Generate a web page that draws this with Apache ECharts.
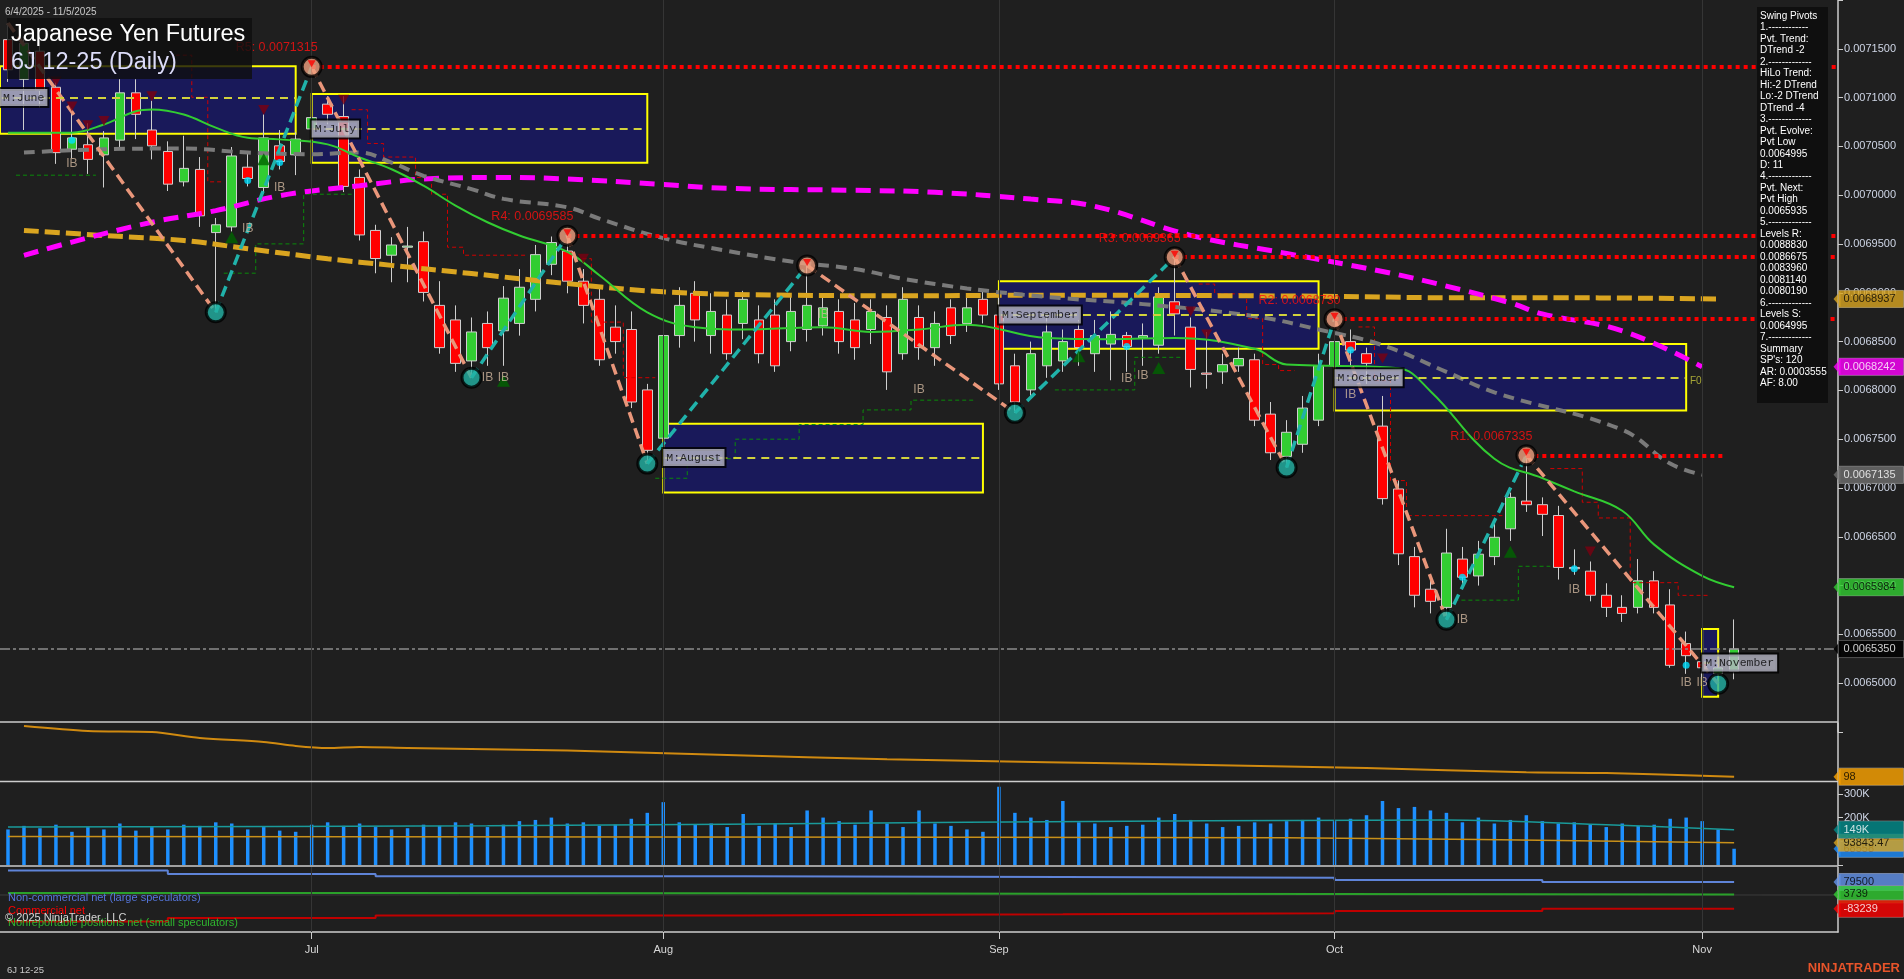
<!DOCTYPE html>
<html><head><meta charset="utf-8">
<script src="https://cdn.jsdelivr.net/npm/echarts@6/dist/echarts.min.js"></script>
<style>html,body{margin:0;padding:0;background:#1f1f1f;overflow:hidden}#c{width:1904px;height:979px}</style>
</head><body><div id="c"></div>
<script>
// ---------------- DATA ----------------
const dates = ['2025-06-04','2025-06-05','2025-06-06','2025-06-09','2025-06-10','2025-06-11','2025-06-12','2025-06-13','2025-06-16','2025-06-17','2025-06-18','2025-06-19','2025-06-20','2025-06-23','2025-06-24','2025-06-25','2025-06-26','2025-06-27','2025-06-30',
'2025-07-01','2025-07-02','2025-07-03','2025-07-07','2025-07-08','2025-07-09','2025-07-10','2025-07-11','2025-07-14','2025-07-15','2025-07-16','2025-07-17','2025-07-18','2025-07-21','2025-07-22','2025-07-23','2025-07-24','2025-07-25','2025-07-28','2025-07-29','2025-07-30','2025-07-31',
'2025-08-01','2025-08-04','2025-08-05','2025-08-06','2025-08-07','2025-08-08','2025-08-11','2025-08-12','2025-08-13','2025-08-14','2025-08-15','2025-08-18','2025-08-19','2025-08-20','2025-08-21','2025-08-22','2025-08-25','2025-08-26','2025-08-27','2025-08-28','2025-08-29',
'2025-09-02','2025-09-03','2025-09-04','2025-09-05','2025-09-08','2025-09-09','2025-09-10','2025-09-11','2025-09-12','2025-09-15','2025-09-16','2025-09-17','2025-09-18','2025-09-19','2025-09-22','2025-09-23','2025-09-24','2025-09-25','2025-09-26','2025-09-29','2025-09-30',
'2025-10-01','2025-10-02','2025-10-03','2025-10-06','2025-10-07','2025-10-08','2025-10-09','2025-10-10','2025-10-13','2025-10-14','2025-10-15','2025-10-16','2025-10-17','2025-10-20','2025-10-21','2025-10-22','2025-10-23','2025-10-24','2025-10-27','2025-10-28','2025-10-29','2025-10-30','2025-10-31',
'2025-11-03','2025-11-04','2025-11-05'];
const padCats = ['p1','p2','p3','p4','p5','p6'];
const monthNames = {'07':'Jul','08':'Aug','09':'Sep','10':'Oct','11':'Nov'};

const opens = [0.0071594,0.0071188,0.0071476,0.0071106,0.0070471,0.0070517,0.0070414,0.0070564,0.0071049,0.0070668,
0.0070448,0.0070137,0.0070264,0.0069617,0.0069675,0.0070287,0.0070079,0.0070506,0.0070414,0.0070679,
0.0070933,0.0070806,0.0070182,0.0069639,0.0069385,0.0069467,0.0069524,0.0068871,0.0068722,0.0068302,
0.0068686,0.0068611,0.0068686,0.0068933,0.0069292,0.0069428,0.0069119,0.0068933,0.0068648,0.0068624,
0.0068005,0.0067510,0.0068562,0.0068995,0.0068562,0.0068772,0.0068686,0.0068722,0.0068772,0.0068500,
0.0068624,0.0068661,0.0068809,0.0068722,0.0068624,0.0068747,0.0068376,0.0068747,0.0068438,0.0068846,
0.0068686,0.0068933,0.0068772,0.0068252,0.0068005,0.0068252,0.0068302,0.0068624,0.0068376,0.0068475,
0.0068562,0.0068537,0.0068463,0.0068908,0.0068648,0.0068178,0.0068190,0.0068252,0.0068314,0.0067757,
0.0067324,0.0067448,0.0067695,0.0068252,0.0068500,0.0068376,0.0067634,0.0066990,0.0066297,0.0065963,
0.0065777,0.0066272,0.0066099,0.0066297,0.0066582,0.0066866,0.0066829,0.0066718,0.0066186,0.0066148,
0.0065901,0.0065777,0.0065777,0.0066049,0.0065802,0.0065406,0.0065220,0.0065096,0.0065120];
const closes = [0.0071285,0.0071557,0.0071072,0.0070436,0.0070587,0.0070367,0.0070587,0.0071049,0.0070829,0.0070506,
0.0070113,0.0070275,0.0069789,0.0069697,0.0070402,0.0070171,0.0070587,0.0070345,0.0070575,0.0070795,
0.0070829,0.0070090,0.0069593,0.0069351,0.0069490,0.0069479,0.0069004,0.0068438,0.0068277,0.0068599,
0.0068438,0.0068945,0.0069057,0.0069391,0.0069515,0.0069119,0.0068871,0.0068314,0.0068500,0.0067881,
0.0067386,0.0068562,0.0068871,0.0068722,0.0068809,0.0068376,0.0068933,0.0068376,0.0068252,0.0068809,
0.0068871,0.0068846,0.0068500,0.0068438,0.0068809,0.0068190,0.0068933,0.0068438,0.0068686,0.0068562,
0.0068846,0.0068772,0.0068067,0.0067881,0.0068376,0.0068599,0.0068500,0.0068438,0.0068562,0.0068574,
0.0068450,0.0068562,0.0068958,0.0068784,0.0068215,0.0068165,0.0068264,0.0068327,0.0067695,0.0067361,
0.0067571,0.0067819,0.0068252,0.0068500,0.0068413,0.0068277,0.0066891,0.0066326,0.0065901,0.0065839,
0.0066334,0.0066086,0.0066322,0.0066495,0.0066904,0.0066829,0.0066730,0.0066186,0.0066173,0.0065901,
0.0065777,0.0065715,0.0066049,0.0065777,0.0065183,0.0065282,0.0065158,0.0065158,0.0065350];
const lows = [0.0071161,0.0070668,0.0070899,0.0070321,0.0070379,0.0070218,0.0070079,0.0070494,0.0070575,0.0070367,
0.0070043,0.0070090,0.0069675,0.0068800,0.0069628,0.0070090,0.0070032,0.0070264,0.0070206,0.0070552,
0.0070726,0.0070032,0.0069536,0.0069200,0.0069108,0.0069108,0.0068911,0.0068376,0.0068190,0.0068130,
0.0068252,0.0068252,0.0068561,0.0068809,0.0069181,0.0068995,0.0068686,0.0068252,0.0068376,0.0067819,
0.0067250,0.0067361,0.0068438,0.0068500,0.0068376,0.0068314,0.0068525,0.0068277,0.0068190,0.0068401,
0.0068500,0.0068562,0.0068376,0.0068314,0.0068475,0.0068005,0.0068314,0.0068314,0.0068252,0.0068475,
0.0068599,0.0068686,0.0068005,0.0067770,0.0067943,0.0068129,0.0068190,0.0068252,0.0068190,0.0068104,
0.0068190,0.0068252,0.0068376,0.0068562,0.0068030,0.0068017,0.0068067,0.0068190,0.0067634,0.0067287,
0.0067210,0.0067361,0.0067634,0.0067881,0.0068252,0.0068067,0.0066830,0.0066210,0.0065777,0.0065715,
0.0065650,0.0065963,0.0066000,0.0066210,0.0066458,0.0066755,0.0066508,0.0066062,0.0066111,0.0065839,
0.0065678,0.0065628,0.0065715,0.0065715,0.0065158,0.0065096,0.0065047,0.0064995,0.0065040];
const highs = [0.0071765,0.0071619,0.0071532,0.0071153,0.0070864,0.0070737,0.0070657,0.0071188,0.0071188,0.0070968,
0.0070552,0.0070609,0.0070391,0.0069767,0.0070494,0.0070436,0.0070829,0.0070668,0.0070644,0.0071315,
0.0071014,0.0071014,0.0070264,0.0069697,0.0069570,0.0069675,0.0069628,0.0069119,0.0068871,0.0068747,
0.0068809,0.0069069,0.0069243,0.0069490,0.0069577,0.0069585,0.0069243,0.0069057,0.0068871,0.0068809,
0.0068067,0.0069057,0.0069057,0.0069119,0.0068995,0.0068933,0.0069020,0.0068871,0.0068933,0.0068995,
0.0069280,0.0068995,0.0068933,0.0068896,0.0068933,0.0068871,0.0069057,0.0068871,0.0068809,0.0068933,
0.0068995,0.0069020,0.0068995,0.0068376,0.0068500,0.0068747,0.0068624,0.0068722,0.0068722,0.0068809,
0.0068599,0.0068686,0.0069057,0.0069365,0.0068747,0.0068599,0.0068376,0.0068438,0.0068376,0.0067881,
0.0067695,0.0067943,0.0068376,0.0068730,0.0068624,0.0068438,0.0067943,0.0067077,0.0066396,0.0066086,
0.0066582,0.0066396,0.0066458,0.0066643,0.0066953,0.0067335,0.0066904,0.0066817,0.0066371,0.0066247,
0.0066024,0.0065901,0.0066272,0.0066148,0.0065963,0.0065529,0.0065282,0.0065220,0.0065653];

// volume in thousands of contracts
const volumeK = [150,165,155,170,140,160,150,175,145,160, 150,170,165,180,175,150,160,145,140,170,
180,165,175,160,150,155,170,165,180,175, 160,170,185,190,200,175,180,165,170,195,
220,265,180,170,175,160,215,165,175,160, 230,200,185,170,230,175,160,230,175,165,
150,140,330,220,200,190,270,180,175,160, 165,170,200,215,190,175,160,165,180,175,
185,190,200,185,195,210,270,240,245,230, 220,180,200,175,190,210,185,175,180,170,
160,175,165,170,195,200,185,150,68.558];
const volAvgTeal = [[0,160],[30,165],[60,180],[90,190],[100,170],[108,149]];
const volAvgGold = [[0,120],[40,118],[80,115],[108,93.84347]];

// swing pivots
const pivotIdx = [0,13,19,29,35,40,50,63,73,80,83,90,95,107];
const pivotPx  = [0.0071765,0.0068800,0.0071315,0.0068130,0.0069585,0.0067250,0.0069280,0.0067770,0.0069365,0.0067210,0.0068730,0.0065650,0.0067335,0.0064995];

// resistance levels
const rNames = ['R5','R4','R3','R2','R1'];
const rIdx = [19,35,73,83,95];
const rVals = [0.0071315,0.0069585,0.0069365,0.0068730,0.0067335];
const rEnd = [114.5,114.5,114.5,114.5,107.5];

// monthly value boxes
const boxNames = ['M:June','M:July','M:August','M:September','M:October','M:November'];
const boxStart = [-0.5,19,41,62,83,106];
const boxEnd = [18,40,61,82,105,107];
const boxTop = [0.0071322,0.0071037,0.0067658,0.0069119,0.0068475,0.0065555];
const boxBot = [0.0070629,0.0070332,0.0066953,0.0068426,0.0067794,0.0064862];
const boxMid = [0.0071000,0.0070678,0.0067312,0.0068772,0.0068129,0.0065208];

// moving averages (index, value)
const maGreen = [[0,0.0070641],[4,0.0070641],[6,0.0070725],[8,0.0070861],[9,0.0070879],[11,0.0070827],[13,0.0070692],[15,0.0070589],[17,0.0070572],[20,0.0070521],[22,0.0070386],[24,0.0070266],[26,0.0070097],[28,0.0069894],[30,0.0069723],[32,0.0069587],[35,0.0069420],[37,0.0069180],[40,0.0068800],[43,0.0068648],[46,0.0068624],[51,0.0068648],[54,0.0068599],[57,0.0068624],[60,0.0068673],[65,0.0068537],[69,0.0068525],[73,0.0068537],[78,0.0068426],[80,0.0068265],[83,0.0068252],[87,0.0068227],[89,0.0067992],[93,0.0067299],[96,0.0067101],[98,0.0066965],[101,0.0066767],[103,0.0066420],[106,0.0066100],[108,0.0065984]];
const maGray = [[1,0.0070437],[6,0.0070471],[11,0.0070478],[15,0.0070437],[19,0.0070420],[22,0.0070437],[24,0.0070334],[26,0.0070199],[29,0.0070063],[31,0.0069962],[35,0.0069876],[37,0.0069760],[41,0.0069560],[45,0.0069430],[49,0.0069320],[53,0.0069243],[56,0.0069144],[60,0.0069045],[65,0.0068958],[71,0.0068884],[78,0.0068760],[82,0.0068624],[86,0.0068463],[90,0.0068190],[93,0.0067980],[101,0.0067596],[104,0.0067250],[106,0.0067135]];
const maMagenta = [[1,0.0069384],[4,0.0069520],[9,0.0069723],[13,0.0069842],[17,0.0069995],[22,0.0070097],[26,0.0070165],[31,0.0070182],[35,0.0070165],[41,0.0070110],[45,0.0070070],[53,0.0070050],[58,0.0070030],[64,0.0069960],[68,0.0069886],[74,0.0069589],[80,0.0069403],[86,0.0069218],[90,0.0069069],[94,0.0068896],[96,0.0068784],[101,0.0068611],[106,0.0068242]];
const maOrange = [[1,0.0069639],[6,0.0069587],[11,0.0069536],[15,0.0069452],[20,0.0069349],[24,0.0069281],[29,0.0069197],[35,0.0069094],[41,0.0069010],[49,0.0068975],[56,0.0068970],[65,0.0068975],[82,0.0068965],[90,0.0068950],[96,0.0068950],[107,0.0068937]];

// trailing stop steps
const stopRedSegs = [
 [[10.5,0.0071435],[11.5,0.0071435],[11.5,0.0071003],[12.5,0.0071003],[12.5,0.0070137],[13.5,0.0070137]],
 [[21.5,0.0070876],[22.5,0.0070876],[22.5,0.0070530],[23.5,0.0070530],[23.5,0.0070391],[25.5,0.0070391],[25.5,0.0070182],[26.5,0.0070182],[26.5,0.0070010],[27.5,0.0070010],[27.5,0.0069467],[28.5,0.0069467],[28.5,0.0069385],[32.5,0.0069385]],
 [[35.5,0.0069350],[36.5,0.0069350],[36.5,0.0068700],[38.5,0.0068700],[38.5,0.0068130],[40.5,0.0068130]],
 [[74.5,0.0069090],[75.5,0.0069090],[75.5,0.0068989],[77.5,0.0068989],[77.5,0.0068735],[78.5,0.0068735],[78.5,0.0068265],[79.5,0.0068265],[79.5,0.0068203],[80.5,0.0068203]],
 [[84.5,0.0068650],[85.5,0.0068650],[85.5,0.0068100],[86.5,0.0068100],[86.5,0.0067076],[87.5,0.0067076],[87.5,0.0066717],[93.5,0.0066717]],
 [[96.5,0.0067199],[98.5,0.0067199],[98.5,0.0066854],[99.5,0.0066854],[99.5,0.0066693],[101.5,0.0066693],[101.5,0.0066030],[104.5,0.0066030],[104.5,0.0065900],[106.5,0.0065900]]
];
const stopGreenSegs = [
 [[0.5,0.0070205],[5.5,0.0070205]],
 [[13.5,0.0069201],[15.5,0.0069201],[15.5,0.0069501],[18.5,0.0069501],[18.5,0.0070010],[21.5,0.0070010]],
 [[40.5,0.0067100],[42.5,0.0067100],[42.5,0.0067300],[45.5,0.0067300],[45.5,0.0067500],[49.5,0.0067500],[49.5,0.0067650],[53.5,0.0067650],[53.5,0.0067800],[56.5,0.0067800],[56.5,0.0067900],[60.5,0.0067900]],
 [[65.5,0.0068005],[70.5,0.0068005],[70.5,0.0068339],[73.5,0.0068339]],
 [[90.5,0.0065851],[94.5,0.0065851],[94.5,0.0066198],[96.5,0.0066198]]
];

// signal markers
const downTri = [[3,0.0071164],[4,0.0070910],[5,0.0070717],[6,0.0070760],[9,0.0071014],[16,0.0070873],[21,0.0070979],[36,0.0069350],[74,0.0068809],[75,0.0068574],[86,0.0068327],[99,0.0066350]];
const upTri = [[14,0.0069569],[16,0.0070369],[31,0.0068100],[67,0.0068351],[72,0.0068230],[94,0.0066346]];
const cyanDots = [[4,0.0070564],[15,0.0070151],[17,0.0070336],[70,0.0068450],[84,0.0068413],[91,0.0066086],[98,0.0066173],[105,0.0065183]];
const ibMarks = [[4,0.0070321],[15,0.0069654],[17,0.0070079],[30,0.0068129],[31,0.0068129],[51,0.0068772],[57,0.0068005],[70,0.0068116],[71,0.0068154],[84,0.0067955],[91,0.0065653],[98,0.0065962],[105,0.0065010],[106,0.0065010]];

// lower indicator panel
const indicator = [[1,132.9],[5,129.5],[9,128.8],[12,124.7],[16,121.9],[18,119.2],[20,117.8],[22,118.5],[25,117.8],[35,116],[45,113],[55,110],[65,108],[75,106],[85,104],[95,101],[100,100.5],[108,98]];

// COT net positions (weekly steps)
const cotIdx = [0,10,23,46,66,83,96];
const cotNonComm = [150000,128000,115000,110000,105000,92000,79500];
const cotNonRep = [12000,12000,10000,8000,6000,5000,3739];
const cotComm = [-162000,-140000,-125000,-118000,-111000,-97000,-83239];

// right-edge value tags
const lastPrice = 0.0065350;
const mainTagVals = [0.0068937,0.0068242,0.0067135,0.0065984,0.0065350];
const mainTagBg = ['#daa520','#ff00ff','#6e6e6e','#32cd32','#000000'];
const mainTagFg = ['#000000','#ffffff','#ffffff','#000000','#ffffff'];
const indTagVals = [98], indTagText = ['98'];
const volTagVals = [68.558,93.84347,149], volTagText = ['68558','93843.47','149K'];
const volTagBg = ['#1e90ff','#daa520','#008b8b'], volTagFg = ['#000000','#000000','#ffffff'];
const cotTagVals = [79500,3739,-83239], cotTagText = ['79500','3739','-83239'];
const cotTagBg = ['#6495ed','#32cd32','#ff0000'], cotTagFg = ['#000000','#000000','#ffffff'];

const infoLines = ['Swing Pivots','1.------------','Pvt. Trend:','DTrend -2','2.-------------','HiLo Trend:','Hi:-2 DTrend','Lo:-2 DTrend','DTrend -4','3.-------------','Pvt. Evolve:','Pvt Low','0.0064995','D: 11','4.-------------','Pvt. Next:','Pvt High','0.0065935','5.-------------','Levels R:','0.0088830','0.0086675','0.0083960','0.0081140','0.0080190','6.-------------','Levels S:','0.0064995','7.-------------','Summary',"SP's: 120",'AR: 0.0003555','AF: 8.00'];

// ---------------- CHART ----------------
const FONT = 'Arial, "Liberation Sans", sans-serif';
const categories = dates.concat(padCats);
const xMax = categories.length - 0.5;
const lastIdx = dates.length - 1;
const monthStarts = [];
dates.forEach((d,i)=>{ if(i>0 && d.slice(5,7)!==dates[i-1].slice(5,7)) monthStarts.push(i); });
const candleData = opens.map((o,i)=>[o, closes[i], lows[i], highs[i]]);

const chart = echarts.init(document.getElementById('c'), null, {renderer:'canvas', width:1904, height:979});
const AXC = '#cdcdcd', LBL = '#cfd6e6';

function tagSeries(xi, yi, vals, texts, bgs, fgs){
  return {type:'scatter', xAxisIndex:xi, yAxisIndex:yi, clip:false, z:20, silent:true,
    symbol:'triangle', symbolRotate:90, symbolSize:[16,7], symbolOffset:[-1,0],
    data: vals.map((v,k)=>({value:[xMax, v], itemStyle:{color:bgs[k]}, label:{formatter:texts[k], backgroundColor:bgs[k], color:fgs[k]}})),
    label:{show:true, position:'right', distance:-2, fontSize:11, fontFamily:FONT, padding:[3,3,3,5], width:57, align:'left',
      borderColor:'#9a9a9a', borderWidth:0.5}};
}

const series = [];
// month lines
[[1,0],[2,1],[3,2],[5,3]].forEach(([xi,yi])=>{
  series.push({type:'line', xAxisIndex:xi, yAxisIndex:yi, data:[], silent:true, z:1,
    markLine:{symbol:'none', silent:true, animation:false, label:{show:false}, lineStyle:{color:'#353535', width:1, type:'solid'},
      data: monthStarts.map(i=>({xAxis:i}))}});
});

// candles
series.push({type:'candlestick', xAxisIndex:0, yAxisIndex:0, data:candleData, barWidth:10, z:2,
  itemStyle:{color:'#32cd32', color0:'#ff0000', borderColor:'#cfcfcf', borderColor0:'#cfcfcf', borderWidth:1}});

// trailing stops
stopRedSegs.forEach(seg=>series.push({type:'line', xAxisIndex:1, yAxisIndex:0, data:seg, symbol:'none', z:3,
  lineStyle:{color:'#d00000', width:1, type:[4,3]}}));
stopGreenSegs.forEach(seg=>series.push({type:'line', xAxisIndex:1, yAxisIndex:0, data:seg, symbol:'none', z:3,
  lineStyle:{color:'#0a8a0a', width:1, type:[4,3]}}));

// moving averages
series.push({type:'line', xAxisIndex:1, yAxisIndex:0, data:maOrange, symbol:'none', smooth:0.4, z:3,
  lineStyle:{color:'#daa520', width:5, type:[15,6]}});
series.push({type:'line', xAxisIndex:1, yAxisIndex:0, data:maMagenta, symbol:'none', smooth:0.4, z:3,
  lineStyle:{color:'#ff00ff', width:5, type:[15,9]}});
series.push({type:'line', xAxisIndex:1, yAxisIndex:0, data:maGray, symbol:'none', smooth:0.4, z:3,
  lineStyle:{color:'#7a7a7a', width:4, type:[11,7]}});
series.push({type:'line', xAxisIndex:1, yAxisIndex:0, data:maGreen, symbol:'none', smooth:0.4, z:3,
  lineStyle:{color:'#32cd32', width:2}});

// current price line
series.push({type:'line', xAxisIndex:1, yAxisIndex:0, data:[[-0.5,lastPrice],[xMax,lastPrice]], symbol:'none', z:3, silent:true,
  lineStyle:{color:'#8c8c8c', width:1.5, type:[10,3,3,3]}});

// zigzag
for(let k=0;k<pivotIdx.length-1;k++){
  const isHigh = k%2===0;
  series.push({type:'line', xAxisIndex:1, yAxisIndex:0, symbol:'none', z:4,
    data:[[pivotIdx[k],pivotPx[k]],[pivotIdx[k+1],pivotPx[k+1]]],
    lineStyle:{color: isHigh ? '#e9967a' : '#20b2aa', width:3.5, type:[11,6]}});
}

// markers
series.push({type:'scatter', xAxisIndex:1, yAxisIndex:0, data:downTri, symbol:'triangle', symbolRotate:180, symbolSize:[11,10], z:4,
  itemStyle:{color:'#7a0010'}});
series.push({type:'scatter', xAxisIndex:1, yAxisIndex:0, data:upTri, symbol:'triangle', symbolSize:[13,12], z:4,
  itemStyle:{color:'#006400'}});
series.push({type:'scatter', xAxisIndex:1, yAxisIndex:0, data:cyanDots, symbol:'circle', symbolSize:7, z:4,
  itemStyle:{color:'#00e0ff'}});
series.push({type:'scatter', xAxisIndex:1, yAxisIndex:0, data:ibMarks, symbolSize:0, z:4,
  label:{show:true, position:'inside', formatter:'IB', color:'#cdb49c', fontSize:12, fontFamily:FONT}});

// monthly value boxes
series.push({type:'scatter', xAxisIndex:1, yAxisIndex:0, data:[], z:5, silent:true,
  markArea:{silent:true, animation:false, itemStyle:{color:'rgba(20,20,150,0.5)', borderColor:'#ffff00', borderWidth:2},
    label:{show:false},
    data: boxNames.map((n,k)=>[{coord:[boxStart[k], boxTop[k]]},{coord:[boxEnd[k], boxBot[k]]}])},
  markLine:{symbol:'none', silent:true, animation:false, label:{show:false}, lineStyle:{color:'#d2d23c', width:2, type:[8,6]},
    data: boxNames.map((n,k)=>[{coord:[boxStart[k], boxMid[k]]},{coord:[boxEnd[k], boxMid[k]]}])}
});
series.push({type:'scatter', xAxisIndex:1, yAxisIndex:0, z:7, symbolSize:0,
  data: boxNames.map((n,k)=>({value:[boxStart[k], boxMid[k]], name:n})),
  label:{show:true, position:'right', distance:0, formatter:p=>p.name, color:'#000', backgroundColor:'#b9b9c8',
    borderColor:'#000', borderWidth:2, padding:[3,3,2,3], fontFamily:'"Liberation Mono","Courier New",monospace', fontSize:11.5}});
series.push({type:'scatter', xAxisIndex:1, yAxisIndex:0, z:7, symbolSize:0, data:[[105.6,0.0068092]],
  label:{show:true, position:'inside', formatter:'F0', color:'#c8c83c', fontSize:10, fontFamily:FONT}});

// resistance lines
series.push({type:'scatter', xAxisIndex:1, yAxisIndex:0, z:6, symbolSize:0,
  data: rNames.map((n,k)=>({value:[rIdx[k], rVals[k]], name:n+': '+rVals[k].toFixed(7)})),
  label:{show:true, position:'left', distance:-6, offset:[0,-19], formatter:p=>p.name, color:'#ff1010', fontSize:12.5, fontFamily:FONT},
  markLine:{symbol:'none', silent:true, animation:false, label:{show:false}, lineStyle:{color:'#ff0000', width:4, type:[4,4], cap:'butt'},
    data: rNames.map((n,k)=>[{coord:[rIdx[k], rVals[k]]},{coord:[rEnd[k], rVals[k]]}])}
});

// pivot circles
series.push({type:'scatter', xAxisIndex:1, yAxisIndex:0, z:6, symbolSize:19,
  data: pivotIdx.slice(1).map((i,k)=>{
    const isHigh = (k+1)%2===0;
    return {value:[i,pivotPx[k+1]], itemStyle:{color: isHigh ? '#f0a080' : '#22b2a4', borderColor:'#000', borderWidth:3}};
  })});
series.push({type:'scatter', xAxisIndex:1, yAxisIndex:0, z:6, symbol:'triangle', symbolRotate:180, symbolSize:[8,7], symbolOffset:[0,-3],
  data: pivotIdx.map((i,k)=>[i,pivotPx[k]]).filter((p,k)=>k%2===0 && k>0), itemStyle:{color:'#ff0000'}});

// price tags
series.push(tagSeries(1, 0, mainTagVals, mainTagVals.map(v=>v.toFixed(7)), mainTagBg, mainTagFg));

// panel 2 indicator
series.push({type:'line', xAxisIndex:2, yAxisIndex:1, data:indicator, symbol:'none', smooth:0.3, z:3,
  lineStyle:{color:'#d08a10', width:2}});
series.push(tagSeries(2, 1, indTagVals, indTagText, ['#ffa500'], ['#000000']));

// volume
series.push({type:'bar', xAxisIndex:3, yAxisIndex:2, data:volumeK.map((v,i)=>[i,v]), barWidth:3.5, z:2,
  itemStyle:{color:'#1e90ff'}});
series.push({type:'line', xAxisIndex:3, yAxisIndex:2, data:volAvgGold, symbol:'none', smooth:0.3, z:3,
  lineStyle:{color:'#c8901a', width:1.5}});
series.push({type:'line', xAxisIndex:3, yAxisIndex:2, data:volAvgTeal, symbol:'none', smooth:0.3, z:3,
  lineStyle:{color:'#1a9a9a', width:1.5}});
series.push(tagSeries(3, 2, volTagVals, volTagText, volTagBg, volTagFg));

// COT
function cotData(arr){ const d = cotIdx.map((i,k)=>[i,arr[k]]); d.push([lastIdx, arr[arr.length-1]]); return d; }
series.push({type:'line', xAxisIndex:5, yAxisIndex:3, data:[[-0.5,0],[xMax,0]], symbol:'none', z:1, silent:true,
  lineStyle:{color:'#3c3c3c', width:1}});
series.push({type:'line', xAxisIndex:5, yAxisIndex:3, data:cotData(cotNonComm), step:'end', symbol:'none', z:3,
  lineStyle:{color:'#5f84d8', width:2}});
series.push({type:'line', xAxisIndex:5, yAxisIndex:3, data:cotData(cotNonRep), step:'end', symbol:'none', z:3,
  lineStyle:{color:'#2aa02a', width:2}});
series.push({type:'line', xAxisIndex:5, yAxisIndex:3, data:cotData(cotComm), step:'end', symbol:'none', z:3,
  lineStyle:{color:'#c00000', width:2}});
series.push(tagSeries(5, 3, cotTagVals, cotTagText, cotTagBg, cotTagFg));

const gridL = 0, gridR = 66;
const hiddenVal = (gi)=>({type:'value', gridIndex:gi, min:-0.5, max:xMax, show:false});
const yBase = {position:'right', axisLine:{show:true, onZero:false, lineStyle:{color:AXC, width:1.5}}, splitLine:{show:false},
  axisTick:{show:true, length:5, lineStyle:{color:AXC}}, axisLabel:{color:LBL, fontSize:11, fontFamily:FONT, margin:6}};

const option = {
  backgroundColor:'#1f1f1f',
  animation:false,
  grid:[
    {left:gridL, right:gridR, top:-3, height:735},
    {left:gridL, right:gridR, top:723, height:58},
    {left:gridL, right:gridR, top:782, height:83},
    {left:gridL, right:gridR, top:867, height:65}
  ],
  xAxis:[
    {type:'category', gridIndex:0, data:categories, show:false, boundaryGap:true},
    hiddenVal(0), hiddenVal(1), hiddenVal(2),
    {type:'category', gridIndex:3, data:categories, boundaryGap:true,
      axisLine:{show:true, onZero:false, lineStyle:{color:AXC, width:1.5}},
      axisTick:{show:true, alignWithLabel:true, length:7, interval:(i)=>monthStarts.includes(i), lineStyle:{color:AXC}},
      axisLabel:{show:true, interval:(i)=>monthStarts.includes(i), formatter:(v)=>monthNames[v.slice(5,7)]||'', color:'#d8d8d8', fontSize:11, fontFamily:FONT, margin:12},
      splitLine:{show:false}},
    hiddenVal(3)
  ],
  yAxis:[
    Object.assign({}, yBase, {type:'value', gridIndex:0, min:0.00645, max:0.0072, interval:0.00005,
      axisLabel:Object.assign({}, yBase.axisLabel, {formatter:(v)=> (v<0.00646||v>0.00719)?'':v.toFixed(7)})}),
    Object.assign({}, yBase, {type:'value', gridIndex:1, min:95, max:135, interval:10, axisTick:{show:false}, axisLabel:{show:false}}),
    Object.assign({}, yBase, {type:'value', gridIndex:2, min:0, max:350, interval:100,
      axisLabel:Object.assign({}, yBase.axisLabel, {showMaxLabel:false, formatter:(v)=> (v===0||v>300)?'':v+'K'})}),
    Object.assign({}, yBase, {type:'value', gridIndex:3, min:-226000, max:171000, axisTick:{show:false}, axisLabel:{show:false}})
  ],
  series: series,
  graphic:{elements:[
    {type:'text', z:100, style:{text:'6/4/2025 - 11/5/2025', x:5, y:12, fill:'#c8c8c8', font:'10px '+FONT, verticalAlign:'middle'}},
    {type:'rect', z:99, shape:{x:7, y:18, width:245, height:61}, style:{fill:'rgba(14,14,14,0.8)'}},
    {type:'text', z:100, style:{text:'Japanese Yen Futures', x:11, y:35, fill:'#ffffff', font:'23.5px '+FONT, verticalAlign:'middle'}},
    {type:'text', z:100, style:{text:'6J 12-25 (Daily)', x:11, y:63, fill:'#dcdcf8', font:'23.5px '+FONT, verticalAlign:'middle'}},
    {type:'rect', z:99, shape:{x:1757, y:7, width:71, height:396}, style:{fill:'#0f0f0f'}},
    ...infoLines.map((t,k)=>({type:'text', z:100, style:{text:t, x:1760, y:16+k*11.48, fill:'#ffffff', font:'10px '+FONT, verticalAlign:'middle'}})),
    {type:'line', z:50, shape:{x1:0, y1:722, x2:1838, y2:722}, style:{stroke:AXC, lineWidth:1.5}},
    {type:'line', z:50, shape:{x1:0, y1:781.5, x2:1838, y2:781.5}, style:{stroke:AXC, lineWidth:1.5}},
    {type:'line', z:50, shape:{x1:0, y1:866, x2:1838, y2:866}, style:{stroke:AXC, lineWidth:1.5}},
    {type:'text', z:100, style:{text:'Non-commercial net (large speculators)', x:8, y:898, fill:'#5577dd', font:'11px '+FONT, verticalAlign:'middle'}},
    {type:'text', z:100, style:{text:'Commercial net', x:8, y:911, fill:'#ff0000', font:'11px '+FONT, verticalAlign:'middle'}},
    {type:'text', z:100, style:{text:'Nonreportable positions net (small speculators)', x:8, y:923, fill:'#2fb52f', font:'11px '+FONT, verticalAlign:'middle'}},
    {type:'text', z:101, style:{text:'\u00a9 2025 NinjaTrader, LLC', x:5, y:918, fill:'#d6d6d6', font:'11px '+FONT, verticalAlign:'middle'}},
    {type:'text', z:100, style:{text:'6J 12-25', x:7, y:970, fill:'#c8c8c8', font:'9.5px '+FONT, verticalAlign:'middle'}},
    {type:'text', z:100, style:{text:'NINJATRADER', x:1900, y:968, fill:'#e8542a', font:'bold 13px '+FONT, verticalAlign:'middle', align:'right'}}
  ]}
};
chart.setOption(option);
</script>
</body></html>
